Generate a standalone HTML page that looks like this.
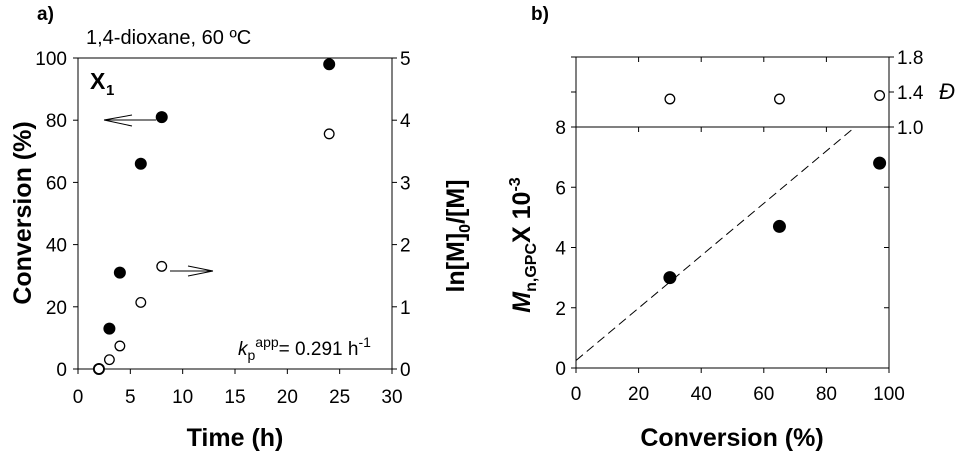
<!DOCTYPE html>
<html><head><meta charset="utf-8"><style>
body{margin:0;background:#fff}
svg text{font-family:"Liberation Sans",Arial,sans-serif;fill:#000}
</style></head><body>
<svg id="c" width="961" height="456" viewBox="0 0 961 456" xmlns="http://www.w3.org/2000/svg">
<g id="a"></g>
<g id="b"></g>
</svg>
<script>
// Panel a data
const timeA = [2, 3, 4, 6, 8, 24];
const convA = [0, 13, 31, 66, 81, 98];
const timeLn = [2, 3, 4, 6, 8, 24];
const lnA = [0, 0.15, 0.37, 1.07, 1.65, 3.78];
const xTicksA = [0, 5, 10, 15, 20, 25, 30];
const yTicksA = [0, 20, 40, 60, 80, 100];
const y2TicksA = [0, 1, 2, 3, 4, 5];
// Panel b data
const convB = [30, 65, 97];
const mnB = [3.0, 4.7, 6.8];
const dispB = [1.32, 1.32, 1.36];
const xTicksB = [0, 20, 40, 60, 80, 100];
const yTicksB = [0, 2, 4, 6, 8];
const dTicksB = [1.0, 1.4, 1.8];
const theoLine = [[0, 0.25], [88, 7.9]];

const NS = "http://www.w3.org/2000/svg";
function mk(p, tag, at, txt){const e=document.createElementNS(NS,tag);for(const k in at)e.setAttribute(k,at[k]);if(txt!==undefined)e.textContent=txt;p.appendChild(e);return e;}
const TF = 19;

// ---- Panel a ----
const A = document.getElementById('a');
const ax = t => 78 + t/30*314;
const ay = v => 369 - v/100*311;
const ay2 = v => 369 - v/5*311;
let e;
e=mk(A,'rect',{x:78,y:58,width:314,height:311,fill:'none',stroke:'#000','stroke-width':1});


xTicksA.forEach(t=>{
  mk(A,'line',{x1:ax(t),x2:ax(t),y1:369,y2:374,stroke:'#000'});
  e=mk(A,'text',{x:ax(t),y:403,'font-size':TF,'text-anchor':'middle'},t);
  
  
});
yTicksA.forEach(v=>{
  mk(A,'line',{x1:73,x2:78,y1:ay(v),y2:ay(v),stroke:'#000'});
  e=mk(A,'text',{x:67,y:ay(v)+7,'font-size':TF,'text-anchor':'end'},v);
  
  
});
y2TicksA.forEach(v=>{
  mk(A,'line',{x1:392,x2:397,y1:ay2(v),y2:ay2(v),stroke:'#000'});
  e=mk(A,'text',{x:400,y:ay2(v)+7,'font-size':TF},v);
  
  
});
timeA.forEach((t,i)=>{
  e=mk(A,'circle',{cx:ax(t),cy:ay(convA[i]),r:6,fill:'#000'});
  
  
});
timeLn.forEach((t,i)=>{
  e=mk(A,'circle',{cx:ax(t),cy:ay2(lnA[i]),r:4.8,fill:'#fff',stroke:'#000','stroke-width':1.3});
  
  
});
// arrows
mk(A,'path',{d:'M104,120 L156,120 M104,120 L132,115 M104,120 L132,126',stroke:'#000',fill:'none'});
mk(A,'path',{d:'M170,271 L213,271 M213,271 L188,266 M213,271 L188,276',stroke:'#000',fill:'none'});
e=mk(A,'text',{x:37,y:20,'font-size':19,'font-weight':'bold'},'a)');

e=mk(A,'text',{x:86,y:44,'font-size':20},'1,4-dioxane, 60 ºC');

e=mk(A,'text',{x:90,y:89,'font-size':23,'font-weight':'bold'},'X');

mk(A,'text',{x:106,y:95,'font-size':15,'font-weight':'bold'},'1');
e=mk(A,'text',{x:238,y:355,'font-size':19});

e.innerHTML='<tspan font-style="italic">k</tspan><tspan font-size="14" dy="5">p</tspan><tspan font-size="14" dy="-13">app</tspan><tspan dy="8">= 0.291 h</tspan><tspan font-size="14" dy="-8">-1</tspan>';
e=mk(A,'text',{x:235,y:446,'font-size':25,'font-weight':'bold','text-anchor':'middle'},'Time (h)');

e=mk(A,'text',{x:0,y:0,'font-size':25,'font-weight':'bold','text-anchor':'middle',transform:'translate(31,213) rotate(-90)'},'Conversion (%)');

e=mk(A,'text',{x:0,y:0,'font-size':25,'font-weight':'bold','text-anchor':'middle',transform:'translate(464,236) rotate(-90)'});
e.innerHTML='ln[M]<tspan font-size="16" dy="6">0</tspan><tspan dy="-6">/[M]</tspan>';


// ---- Panel b ----
const B = document.getElementById('b');
const bx = c => 576 + c/100*313;
const by = v => 368 - v/8*241;
const bd = v => 127 - (v-1.0)/0.8*70;
e=mk(B,'rect',{x:576,y:57,width:313,height:311,fill:'none',stroke:'#000'});

mk(B,'line',{x1:576,x2:889,y1:127,y2:127,stroke:'#000'});
xTicksB.forEach(c=>{
  mk(B,'line',{x1:bx(c),x2:bx(c),y1:368,y2:373,stroke:'#000'});
  mk(B,'line',{x1:bx(c),x2:bx(c),y1:127,y2:132,stroke:'#000'});
  mk(B,'line',{x1:bx(c),x2:bx(c),y1:57,y2:62,stroke:'#000'});
  e=mk(B,'text',{x:bx(c),y:400,'font-size':TF,'text-anchor':'middle'},c);
  
});
yTicksB.forEach(v=>{
  mk(B,'line',{x1:571,x2:576,y1:by(v),y2:by(v),stroke:'#000'});
  mk(B,'line',{x1:884,x2:889,y1:by(v),y2:by(v),stroke:'#000'});
  e=mk(B,'text',{x:566,y:by(v)+7,'font-size':TF,'text-anchor':'end'},v);
  
});
dTicksB.forEach(v=>{
  mk(B,'line',{x1:889,x2:894,y1:bd(v),y2:bd(v),stroke:'#000'});
  mk(B,'line',{x1:571,x2:576,y1:bd(v),y2:bd(v),stroke:'#000'});
  e=mk(B,'text',{x:897,y:bd(v)+7,'font-size':TF},v.toFixed(1));
  
});
e=mk(B,'line',{x1:bx(theoLine[0][0]),y1:by(theoLine[0][1]),x2:bx(theoLine[1][0]),y2:by(theoLine[1][1]),stroke:'#000','stroke-dasharray':'9,5'});

convB.forEach((c,i)=>{
  e=mk(B,'circle',{cx:bx(c),cy:by(mnB[i]),r:6.5,fill:'#000'});
  
  e=mk(B,'circle',{cx:bx(c),cy:bd(dispB[i]),r:4.8,fill:'#fff',stroke:'#000','stroke-width':1.3});
  
});
e=mk(B,'text',{x:531,y:20,'font-size':19,'font-weight':'bold'},'b)');

e=mk(B,'text',{x:939,y:99,'font-size':22,'font-style':'italic'},'Đ');

e=mk(B,'text',{x:732,y:446,'font-size':25,'font-weight':'bold','text-anchor':'middle'},'Conversion (%)');

e=mk(B,'text',{x:0,y:0,'font-size':25,'font-weight':'bold','text-anchor':'middle',transform:'translate(530,245) rotate(-90)'});
e.innerHTML='<tspan font-style="italic">M</tspan><tspan font-size="16" dy="6">n,GPC</tspan><tspan dy="-6">X 10</tspan><tspan font-size="16" dy="-10">-3</tspan>';

</script>
</body></html>
